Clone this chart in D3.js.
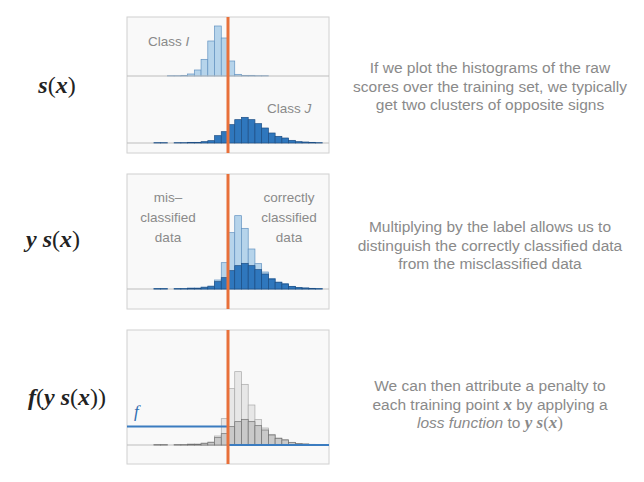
<!DOCTYPE html>
<meta charset="utf-8">
<head>
    <style>
        body { margin: 0; background: #fff; }
        .note { font-family: "Liberation Sans", Arial, sans-serif; font-size: 15.5px; fill: #8a8a8a; }
        .inner { font-family: "Liberation Sans", Arial, sans-serif; font-size: 13.5px; fill: #8a8a8a; }
        .math { font-family: "Liberation Serif", "DejaVu Serif", serif; font-size: 24px; fill: #222; }
    </style>
</head>
<body>
<div id="chart"></div>
<script src="https://d3js.org/d3.v7.min.js"></script>
<script>

// bin starts of the score histograms (one unit per bin, 0 = decision boundary)
const binStarts = d3.range(-15, 15);

// raw score counts, class I (negative label) and class J (positive label)
const classI = [0,0,0,0,0,0,1,1,2,6,18,50,105,150,114,45,5,2,2,1,1,0,0,0,0,0,0,0,0,0];
const classJ = [0,0,0,0,1,1,0,1,1,2,2,4,7,22,34,55,70,77,70,58,45,30,20,15,8,4,3,2,1,0];

// step loss f(y s(x)): penalty on the misclassified side, none on the other
const lossSteps = [{from: -15, to: 0, value: 1}, {from: 0, to: 15, value: 0}];

const mathLabels = [
    [["s", "v"], ["(", "p"], ["x", "v"], [")", "p"]],
    [["y", "v"], [" s", "v"], ["(", "p"], ["x", "v"], [")", "p"]],
    [["f", "v"], ["(", "p"], ["y", "v"], [" s", "v"], ["(", "p"], ["x", "v"], [")", "p"], [")", "p"]]
];

const notes = [
    [[["If we plot the histograms of the raw", "t"]],
     [["scores over the training set, we typically", "t"]],
     [["get two clusters of opposite signs", "t"]]],
    [[["Multiplying by the label allows us to", "t"]],
     [["distinguish the correctly classified data", "t"]],
     [["from the misclassified data", "t"]]],
    [[["We can then attribute a penalty to", "t"]],
     [["each training point ", "t"], ["x", "m"], [" by applying a", "t"]],
     [["loss function", "i"], [" to ", "t"], ["y", "m"], [" s", "m"], ["(", "mp"], ["x", "m"], [")", "mp"]]]
];

const leftWords = ["mis\u2013", "classified", "data"];
const rightWords = ["correctly", "classified", "data"];

const W = 644, H = 482;
const svg = d3.select("#chart").append("svg")
    .attr("width", W).attr("height", H);

const x = d3.scaleLinear().domain([-15, 15]).range([127, 329]);
const pxPerCount = 1 / 3;

const lightBlue = {fill: "#b6d4eb", stroke: "#6292c0"};
const darkBlue = {fill: "#2f77bd", stroke: "#1d4e84"};
const lightGray = {fill: "#e7e7e7", stroke: "#a9a9a9"};
const darkGray = {fill: "#c9c9c9", stroke: "#707070"};

function panel(top, bottom) {
    svg.append("rect")
        .attr("x", x(-15)).attr("y", top)
        .attr("width", x(15) - x(-15)).attr("height", bottom - top)
        .attr("fill", "#f9f9f9").attr("stroke", "#d0d0d0").attr("stroke-width", 1);
}

function hist(values, baseline, style) {
    const y = d3.scaleLinear().domain([0, 1]).range([baseline, baseline - pxPerCount]);
    svg.append("g").selectAll("rect")
        .data(values.map((v, i) => ({b: binStarts[i], v: v})).filter(d => d.v > 0))
        .join("rect")
        .attr("x", d => x(d.b))
        .attr("width", d => x(d.b + 1) - x(d.b))
        .attr("y", d => y(d.v))
        .attr("height", d => baseline - y(d.v))
        .attr("fill", style.fill)
        .attr("stroke", style.stroke)
        .attr("stroke-width", 0.7);
}

function baseLine(yy) {
    svg.append("line")
        .attr("x1", x(-15)).attr("x2", x(15))
        .attr("y1", yy).attr("y2", yy)
        .attr("stroke", "#bdbdbd").attr("stroke-width", 1);
}

function boundary(top, bottom) {
    svg.append("line")
        .attr("x1", x(0)).attr("x2", x(0))
        .attr("y1", top).attr("y2", bottom)
        .attr("stroke", "#e8703a").attr("stroke-width", 3);
}

// ---- panel 1: raw scores
panel(17, 153);
baseLine(143);
hist(classI, 76, lightBlue);
baseLine(76);
hist(classJ, 143, darkBlue);
boundary(17, 153);

const c1 = svg.append("text").attr("class", "inner").attr("x", 148).attr("y", 46);
c1.append("tspan").text("Class ");
c1.append("tspan").attr("font-style", "italic").text("I");
const c2 = svg.append("text").attr("class", "inner").attr("x", 267).attr("y", 113);
c2.append("tspan").text("Class ");
c2.append("tspan").attr("font-style", "italic").text("J");

// ---- panel 2: label times score
const flippedI = classI.slice().reverse();
const total = classJ.map((v, i) => v + flippedI[i]);

panel(174, 309);
baseLine(289);
hist(total, 289, lightBlue);
hist(classJ, 289, darkBlue);
boundary(174, 309);

leftWords.forEach((w, i) => {
    svg.append("text").attr("class", "inner").attr("text-anchor", "middle")
        .attr("x", 168).attr("y", 202 + i * 20).text(w);
});
rightWords.forEach((w, i) => {
    svg.append("text").attr("class", "inner").attr("text-anchor", "middle")
        .attr("x", 289).attr("y", 202 + i * 20).text(w);
});

// ---- panel 3: loss function
panel(330, 464);
baseLine(445);
hist(total, 445, lightGray);
hist(classJ, 445, darkGray);

const yLoss = d3.scaleLinear().domain([0, 1]).range([445, 426.5]);
svg.append("g").selectAll("line")
    .data(lossSteps)
    .join("line")
    .attr("x1", d => x(d.from)).attr("x2", d => x(d.to))
    .attr("y1", d => yLoss(d.value)).attr("y2", d => yLoss(d.value))
    .attr("stroke", "#3b7cc0").attr("stroke-width", 2);
boundary(330, 464);

svg.append("text")
    .attr("x", 134).attr("y", 417)
    .attr("font-family", "Liberation Serif, serif")
    .attr("font-style", "italic")
    .attr("font-size", "17px")
    .attr("fill", "#2f6db0")
    .text("f");

// ---- math labels on the left
const mathPos = [[57, 93], [53, 247], [67, 405]];
mathLabels.forEach((parts, k) => {
    const t = svg.append("text").attr("class", "math")
        .attr("text-anchor", "middle")
        .attr("x", mathPos[k][0]).attr("y", mathPos[k][1]);
    parts.forEach(p => {
        const s = t.append("tspan").text(p[0]);
        if (p[1] === "v") s.attr("font-style", "italic").attr("font-weight", "bold");
    });
});

// ---- explanatory notes on the right
const noteTop = [73, 232, 391];
notes.forEach((lines, k) => {
    lines.forEach((parts, j) => {
        const t = svg.append("text").attr("class", "note")
            .attr("text-anchor", "middle")
            .attr("x", 490).attr("y", noteTop[k] + j * 18.5);
        parts.forEach(p => {
            const s = t.append("tspan").text(p[0]);
            if (p[1] === "i") s.attr("font-style", "italic");
            if (p[1] === "m") s.attr("font-family", "Liberation Serif, serif")
                .attr("font-style", "italic").attr("font-weight", "bold").attr("font-size", "17px");
            if (p[1] === "mp") s.attr("font-family", "Liberation Serif, serif").attr("font-size", "17px");
        });
    });
});

</script>
</body>
